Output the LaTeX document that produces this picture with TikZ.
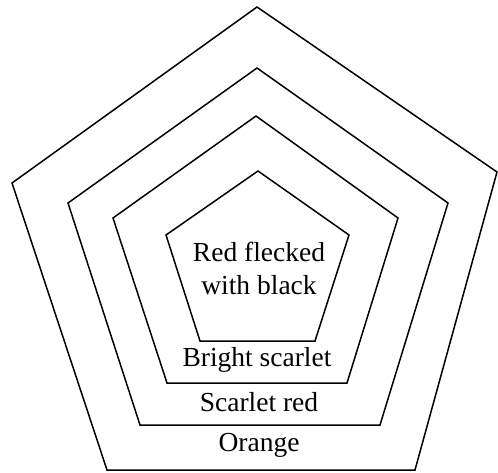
\documentclass[tikz,border=0pt]{standalone}
\usepackage{fontspec}
\setmainfont{Liberation Serif}
\begin{document}
\begin{tikzpicture}[x=1pt,y=-1pt,
  pent/.style={draw=black,line width=1.5pt,line join=miter},
  lbl/.style={font=\fontsize{27.5}{33}\selectfont,inner sep=0pt,align=center}]
\useasboundingbox (0,0) rectangle (498,473);
\draw[pent] (257,7) -- (497,172) -- (415,470) -- (107,470) -- (12,183) -- cycle;
\draw[pent] (257,68) -- (448,203) -- (380,425) -- (140,425) -- (68,203) -- cycle;
\draw[pent] (256,116) -- (398,218) -- (347,383) -- (167,383) -- (113,218) -- cycle;
\draw[pent] (258,171) -- (349,235) -- (315,341) -- (200,341) -- (166,235) -- cycle;
\node[lbl] (inner) at (259,268) {Red flecked\\with black};
\node[lbl] (bright) at (257,360) {Bright scarlet};
\node[lbl] (scarlet) at (259,402) {Scarlet red};
\node[lbl] (orange) at (259,445) {Orange};
\end{tikzpicture}
\end{document}
